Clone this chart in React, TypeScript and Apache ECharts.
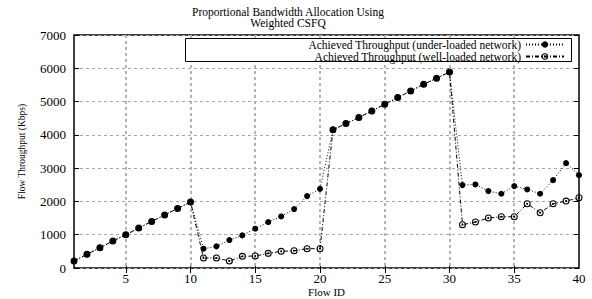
import React, { useEffect, useRef } from 'react';
import * as echarts from 'echarts';

const flowIds = [
  1, 2, 3, 4, 5, 6, 7, 8, 9, 10,
  11, 12, 13, 14, 15, 16, 17, 18, 19, 20,
  21, 22, 23, 24, 25, 26, 27, 28, 29, 30,
  31, 32, 33, 34, 35, 36, 37, 38, 39, 40,
];

const underLoaded = [
  210, 410, 610, 810, 1000, 1200, 1400, 1590, 1790, 1980,
  580, 650, 840, 980, 1180, 1380, 1550, 1770, 2160, 2380,
  4150, 4340, 4520, 4720, 4920, 5120, 5320, 5520, 5700, 5890,
  2490, 2510, 2310, 2230, 2460, 2360, 2230, 2640, 3150, 2790,
];

const wellLoaded = [
  210, 410, 610, 810, 1000, 1200, 1400, 1590, 1790, 1980,
  300, 300, 210, 350, 360, 440, 500, 520, 580, 580,
  4150, 4340, 4520, 4720, 4920, 5120, 5320, 5520, 5700, 5890,
  1300, 1380, 1500, 1540, 1540, 1930, 1660, 1930, 2010, 2110,
];

const xTickValues = [5, 10, 15, 20, 25, 30, 35, 40];
const xGridValues = [5, 10, 15, 20, 25, 30, 35];
const X_MIN = 1;
const X_MAX = 40;
const Y_MIN = 0;
const Y_MAX = 7000;
const Y_STEP = 1000;

const seriesNames = [
  'Achieved Throughput (under-loaded network)',
  'Achieved Throughput (well-loaded network)',
];
const titleText = 'Proportional Bandwidth Allocation Using\nWeighted CSFQ';
const xAxisName = 'Flow ID';
const yAxisName = 'Flow Throughput (Kbps)';

const FONT = 'Liberation Serif';
const GRID_COLOR = '#a8a8a8';
const VGRID_COLOR = '#b4b4b4';
const DASH_ON = 3;
const DASH_OFF = 3;

const ringDot =
  'path://M0,-10A10,10 0 1,1 0,10A10,10 0 1,1 0,-10Z' +
  'M0,-7A7,7 0 1,0 0,7A7,7 0 1,0 0,-7Z' +
  'M0,-3A3,3 0 1,1 0,3A3,3 0 1,1 0,-3Z';

export default function App() {
  const ref = useRef<HTMLDivElement>(null);

  useEffect(() => {
    document.body.style.margin = '0';
    const chart = echarts.init(ref.current!, null, { renderer: 'svg' });
    const pairs = (vals: number[]) => flowIds.map((id, i) => [id, vals[i]]);

    const mirrorTick = { show: true, inside: true, length: 5, lineStyle: { color: '#000' } };

    chart.setOption({
      animation: false,
      backgroundColor: '#fff',
      textStyle: { fontFamily: FONT, color: '#000' },
      title: {
        text: titleText,
        left: 288,
        textAlign: 'center',
        top: 6,
        padding: 0,
        textStyle: {
          fontFamily: FONT,
          fontSize: 11.5,
          fontWeight: 'normal',
          color: '#000',
          lineHeight: 11,
        },
      },
      graphic: [
        {
          type: 'rect',
          z: 5,
          shape: { x: 185.5, y: 38.5, width: 386, height: 23 },
          style: { fill: '#fff', stroke: '#000', lineWidth: 1 },
          silent: true,
        },
      ],
      legend: {
        data: seriesNames,
        orient: 'vertical',
        align: 'right',
        right: 27,
        top: 38.5,
        padding: 0,
        z: 6,
        itemGap: 0,
        itemWidth: 38,
        itemHeight: 8,
        selectedMode: false,
        textStyle: {
          fontFamily: FONT,
          fontSize: 11.5,
          lineHeight: 11.5,
          color: '#000',
        },
      },
      grid: {
        left: 74,
        right: 13,
        top: 35,
        bottom: 31,
        show: true,
        borderColor: '#000',
        borderWidth: 1.5,
        outerBoundsMode: 'none',
      },
      xAxis: [
        {
          type: 'value',
          min: X_MIN,
          max: X_MAX,
          position: 'bottom',
          name: xAxisName,
          nameLocation: 'middle',
          nameGap: 18,
          nameMoveOverlap: false,
          nameTextStyle: { fontFamily: FONT, fontSize: 11, color: '#000', verticalAlign: 'top' },
          axisLine: { show: false },
          axisTick: { ...mirrorTick, customValues: xGridValues },
          axisLabel: {
            customValues: xTickValues,
            margin: 4,
            fontFamily: FONT,
            fontSize: 13,
            color: '#000',
            formatter: (v: number) => String(v),
          },
          splitLine: { show: false },
        },
        {
          type: 'value',
          min: X_MIN,
          max: X_MAX,
          position: 'top',
          axisLine: { show: false },
          axisTick: { ...mirrorTick, customValues: xGridValues },
          axisLabel: { show: false },
          splitLine: { show: false },
        },
      ],
      yAxis: [
        {
          type: 'value',
          min: Y_MIN,
          max: Y_MAX,
          interval: Y_STEP,
          name: yAxisName,
          nameLocation: 'middle',
          nameRotate: 90,
          nameGap: 47,
          nameMoveOverlap: false,
          nameTextStyle: { fontFamily: FONT, fontSize: 9.5, color: '#000' },
          axisLine: { show: false },
          axisTick: mirrorTick,
          axisLabel: {
            margin: 8,
            fontFamily: FONT,
            fontSize: 13,
            color: '#000',
            formatter: (v: number) => String(v),
          },
          splitLine: { show: true, lineStyle: { color: GRID_COLOR, type: [DASH_ON, DASH_OFF], width: 1 } },
        },
        {
          type: 'value',
          min: Y_MIN,
          max: Y_MAX,
          interval: Y_STEP,
          position: 'right',
          axisLine: { show: false },
          axisTick: mirrorTick,
          axisLabel: { show: false },
          splitLine: { show: false },
        },
      ],
      series: [
        {
          name: 'xgrid',
          type: 'custom',
          silent: true,
          z: 1,
          clip: false,
          xAxisIndex: 0,
          yAxisIndex: 0,
          data: xGridValues.map((v) => [v, Y_MAX]),
          encode: { x: 0, y: 1 },
          renderItem: (_params: any, api: any) => {
            const v = api.value(0);
            const p0 = api.coord([v, Y_MIN]);
            const p1 = api.coord([v, Y_MAX]);
            const x = Math.round(p0[0]) - 1;
            const children: any[] = [];
            for (let y = p1[1]; y < p0[1]; y += DASH_ON + DASH_OFF) {
              children.push({
                type: 'rect',
                shape: { x, y, width: 2, height: Math.min(DASH_ON, p0[1] - y) },
                style: { fill: VGRID_COLOR },
              });
            }
            return { type: 'group', children };
          },
        },
        {
          name: seriesNames[1],
          type: 'line',
          data: pairs(wellLoaded),
          symbol: ringDot,
          symbolSize: 7,
          itemStyle: { color: '#000' },
          lineStyle: { color: '#000', width: 1, type: [4, 2, 1, 2] },
          emphasis: { disabled: true },
          z: 2,
        },
        {
          name: seriesNames[0],
          type: 'line',
          data: pairs(underLoaded),
          symbol: 'circle',
          symbolSize: 6,
          itemStyle: { color: '#000' },
          lineStyle: { color: '#000', width: 1, type: [1, 2] },
          emphasis: { disabled: true },
          z: 3,
        },
      ],
    });

    return () => chart.dispose();
  }, []);

  return <div ref={ref} style={{ width: 592, height: 299 }} />;
}
